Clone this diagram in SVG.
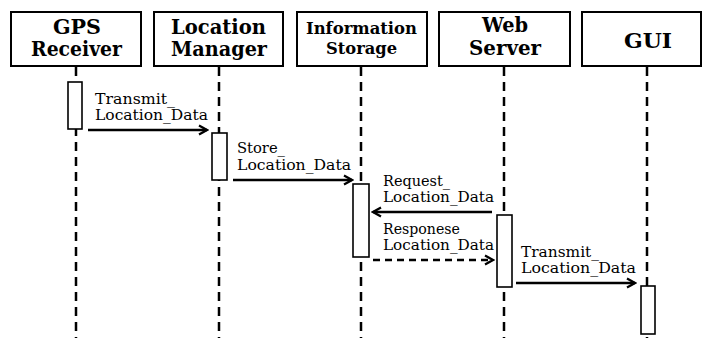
<svg xmlns="http://www.w3.org/2000/svg" width="703" height="338" viewBox="0 0 703 338">
<defs>
<style>
.hdr{fill:#fff;stroke:#000;stroke-width:2}
.ht{font-family:"DejaVu Serif","Liberation Serif",serif;font-weight:bold;font-size:20px;fill:#000}
.hs{font-size:17.5px}
.life{stroke:#000;stroke-width:2.5;stroke-dasharray:9 6;fill:none}
.act{fill:#fff;stroke:#000;stroke-width:1.6}
.msg{stroke:#000;stroke-width:2.5;fill:none;marker-end:url(#ah)}
.dash{stroke-dasharray:7 5}
.lt{font-family:"DejaVu Serif","Liberation Serif",serif;font-size:14.5px;fill:#000}
</style>
<marker id="ah" viewBox="0 0 12 12" refX="10" refY="6" markerWidth="12" markerHeight="12" markerUnits="userSpaceOnUse" orient="auto">
<path d="M2,1.5 L10,6 L2,10.5" fill="none" stroke="#000" stroke-width="2.2"/>
</marker>
</defs>
<rect width="703" height="338" fill="#fff"/>

<g id="connectors">
<line class="life" x1="76" y1="67" x2="76" y2="338"/>
<line class="life" x1="219" y1="67" x2="219" y2="338"/>
<line class="life" x1="361" y1="67" x2="361" y2="338"/>
<line class="life" x1="504" y1="67" x2="504" y2="338"/>
<line class="life" x1="647" y1="67" x2="647" y2="338"/>

<line class="msg" x1="88" y1="130" x2="207" y2="130"/>
<line class="msg" x1="233" y1="180" x2="352" y2="180"/>
<line class="msg" x1="492" y1="212" x2="373" y2="212"/>
<line class="msg dash" x1="373" y1="260" x2="493" y2="260"/>
<line class="msg" x1="516" y1="283" x2="635" y2="283"/>

<text class="lt" x="95" y="104" textLength="80" lengthAdjust="spacingAndGlyphs">Transmit_</text>
<text class="lt" x="95" y="120" textLength="113" lengthAdjust="spacingAndGlyphs">Location_Data</text>
<text class="lt" x="237" y="153" textLength="48" lengthAdjust="spacingAndGlyphs">Store_</text>
<text class="lt" x="237" y="170" textLength="114" lengthAdjust="spacingAndGlyphs">Location_Data</text>
<text class="lt" x="383" y="186" textLength="67" lengthAdjust="spacingAndGlyphs">Request_</text>
<text class="lt" x="383" y="202" textLength="111" lengthAdjust="spacingAndGlyphs">Location_Data</text>
<text class="lt" x="383" y="234" textLength="77" lengthAdjust="spacingAndGlyphs">Responese</text>
<text class="lt" x="383" y="250" textLength="111" lengthAdjust="spacingAndGlyphs">Location_Data</text>
<text class="lt" x="521" y="257" textLength="78" lengthAdjust="spacingAndGlyphs">Transmit_</text>
<text class="lt" x="521" y="273" textLength="115" lengthAdjust="spacingAndGlyphs">Location_Data</text>
</g>

<g id="gps">
<rect class="hdr" x="11" y="12" width="130" height="54"/>
<text class="ht" x="53" y="34" textLength="48" lengthAdjust="spacingAndGlyphs">GPS</text>
<text class="ht" x="31" y="56" textLength="91" lengthAdjust="spacingAndGlyphs">Receiver</text>
<rect class="act" x="68" y="82" width="14" height="47"/>
</g>

<g id="location-manager">
<rect class="hdr" x="154" y="12" width="129" height="54"/>
<text class="ht" x="171" y="34" textLength="95" lengthAdjust="spacingAndGlyphs">Location</text>
<text class="ht" x="171" y="56" textLength="96" lengthAdjust="spacingAndGlyphs">Manager</text>
<rect class="act" x="212" y="133" width="15" height="47"/>
</g>

<g id="information-storage">
<rect class="hdr" x="297" y="12" width="130" height="54"/>
<text class="ht hs" x="306" y="34" textLength="111" lengthAdjust="spacingAndGlyphs">Information</text>
<text class="ht hs" x="326" y="54" textLength="71" lengthAdjust="spacingAndGlyphs">Storage</text>
<rect class="act" x="353" y="184" width="16" height="73"/>
</g>

<g id="web-server">
<rect class="hdr" x="439" y="12" width="131" height="54"/>
<text class="ht" x="482" y="32" textLength="46" lengthAdjust="spacingAndGlyphs">Web</text>
<text class="ht" x="469" y="55" textLength="72" lengthAdjust="spacingAndGlyphs">Server</text>
<rect class="act" x="497" y="215" width="15" height="72"/>
</g>

<g id="gui">
<rect class="hdr" x="582" y="12" width="119" height="54"/>
<text class="ht" x="624" y="48" textLength="48" lengthAdjust="spacingAndGlyphs">GUI</text>
<rect class="act" x="641" y="286" width="14" height="48"/>
</g>
</svg>
